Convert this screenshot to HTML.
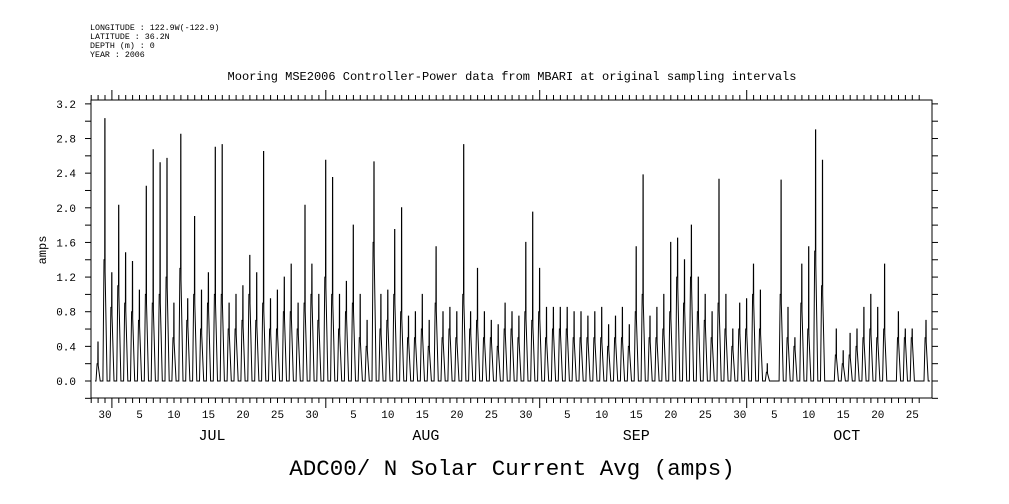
<!DOCTYPE html>
<html><head><meta charset="utf-8"><style>
body{margin:0;background:#fff}
svg{display:block;font-family:"Liberation Mono",monospace}
</style></head><body>
<svg id="chart" width="1009" height="504" viewBox="0 0 1009 504">
<rect width="1009" height="504" fill="#fff"/>
<g font-size="8.3" fill="#000">
<text x="90" y="30">LONGITUDE : 122.9W(-122.9)</text>
<text x="90" y="39">LATITUDE : 36.2N</text>
<text x="90" y="48">DEPTH (m) : 0</text>
<text x="90" y="57">YEAR : 2006</text>
</g>
<text x="512" y="80" font-size="12" text-anchor="middle">Mooring MSE2006 Controller-Power data from MBARI at original sampling intervals</text>
<text x="512" y="475" font-size="22.5" text-anchor="middle">ADC00/ N Solar Current Avg (amps)</text>
<text x="46" y="250" font-size="12" text-anchor="middle" transform="rotate(-90 46 250)">amps</text>
<rect x="91" y="100" width="841" height="298" fill="none" stroke="#000" stroke-width="1"/>
<g id="axes"></g>
<path id="series" fill="none" stroke="#000" stroke-width="1"/>
</svg>
<script>
const peaks=[0.45,3.03,1.25,2.03,1.48,1.38,1.05,2.25,2.67,2.52,2.57,0.9,2.85,0.95,1.9,1.05,1.25,2.7,2.73,0.9,1.0,1.1,1.45,1.25,2.65,0.95,1.05,1.2,1.35,0.9,2.03,1.35,1.0,2.55,2.35,1.0,1.15,1.8,1.0,0.7,2.53,1.0,1.05,1.75,2.0,0.75,0.8,1.0,0.7,1.55,0.8,0.85,0.8,2.73,0.8,1.3,0.8,0.7,0.65,0.9,0.8,0.75,1.6,1.95,1.3,0.85,0.85,0.85,0.85,0.8,0.8,0.75,0.8,0.85,0.65,0.75,0.85,0.65,1.55,2.38,0.75,0.85,1.0,1.6,1.65,1.4,1.8,1.2,1.0,0.8,2.33,1.0,0.6,0.9,0.95,1.35,1.05,0.2,0,2.32,0.85,0.5,1.35,1.55,2.9,2.55,0,0.6,0.35,0.55,0.6,0.85,1.0,0.85,1.35,0,0.8,0.6,0.6,0,0.7];
const humps=[0.2,1.4,0.85,1.1,0.9,0.8,0.7,1.0,0.9,1.0,1.2,0.5,1.3,0.7,1.0,0.6,0.9,1.0,1.0,0.6,0.6,0.7,1.0,0.7,0.9,0.6,0.6,0.8,0.8,0.6,0.9,1.0,0.7,1.2,1.0,0.6,0.8,0.9,0.5,0.4,1.6,0.6,0.7,1.0,0.8,0.5,0.5,0.6,0.4,0.9,0.5,0.6,0.5,1.0,0.6,0.7,0.5,0.5,0.4,0.6,0.6,0.5,0.8,0.7,0.8,0.5,0.6,0.6,0.6,0.5,0.5,0.5,0.5,0.5,0.4,0.5,0.5,0.4,0.8,1.0,0.5,0.5,0.6,0.8,1.2,0.9,1.2,0.8,0.7,0.5,0.9,0.6,0.4,0.6,0.6,1.0,0.6,0.1,0,1.0,0.5,0.4,0.9,0.6,1.5,1.1,0,0.3,0.2,0.3,0.4,0.5,0.6,0.5,0.6,0,0.5,0.5,0.5,0,0.5];
const yTicks=[0.0,0.4,0.8,1.2,1.6,2.0,2.4,2.8,3.2];
const dayLabels=["30","5","10","15","20","25","30","5","10","15","20","25","30","5","10","15","20","25","30","5","10","15","20","25"];
const dayLabelOffsets=[0,5,10,15,20,25,30,36,41,46,51,56,61,67,72,77,82,87,92,97,102,107,112,117];
const months=["JUL","AUG","SEP","OCT"];
const monthStarts=[1,32,63,93];
const monthLengths=[31,31,30,31];

const yS=v=>381-v*86.6;
const xS=d=>105+6.9*d;
const ns="http://www.w3.org/2000/svg";
const ax=document.getElementById('axes');
function mk(tag,at,parent){const e=document.createElementNS(ns,tag);for(const k in at)e.setAttribute(k,at[k]);(parent||ax).appendChild(e);return e;}

for(let v=-0.2;v<=3.21;v+=0.2){const y=yS(v);
 const t=mk('line',{x1:85,x2:91,y1:y,y2:y,stroke:'#000'});
 
 
 const r=mk('line',{x1:932,x2:938,y1:y,y2:y,stroke:'#000'});
 
 }
yTicks.forEach(v=>{const t=mk('text',{x:76,y:yS(v)+4,'font-size':11,'text-anchor':'end'});t.textContent=v.toFixed(1);
 
 });
for(let d=-2;d<=118;d++){const x=xS(d);if(x<91||x>932)continue;
 const major=monthStarts.includes(d);const len=major?10:5;
 const b=mk('line',{x1:x,x2:x,y1:398,y2:398+len,stroke:'#000'});
 
 
 const t=mk('line',{x1:x,x2:x,y1:100,y2:100-len,stroke:'#000'});
 
 }
dayLabels.forEach((l,i)=>{const t=mk('text',{x:xS(dayLabelOffsets[i]),y:418,'font-size':11,'text-anchor':'middle'});t.textContent=l;
 
 });
months.forEach((m,i)=>{const t=mk('text',{x:xS(monthStarts[i]+monthLengths[i]/2-1),y:440,'font-size':15,'text-anchor':'middle'});t.textContent=m;
 
 });

let p='';
peaks.forEach((pk,i)=>{const d=i-1.45;const h=humps[i];
 const pts=[[d,0],[d+0.15,0],[d+0.3,h],[d+0.4,h],[d+0.42,pk],[d+0.45,pk],[d+0.47,h*0.9],[d+0.6,h*0.5],[d+0.75,0],[d+1,0]];
 pts.forEach((q,j)=>{p+=(p===''?'M':'L')+xS(q[0]).toFixed(1)+','+yS(q[1]).toFixed(1);});
});
document.getElementById('series').setAttribute('d',p);
</script>
</body></html>
